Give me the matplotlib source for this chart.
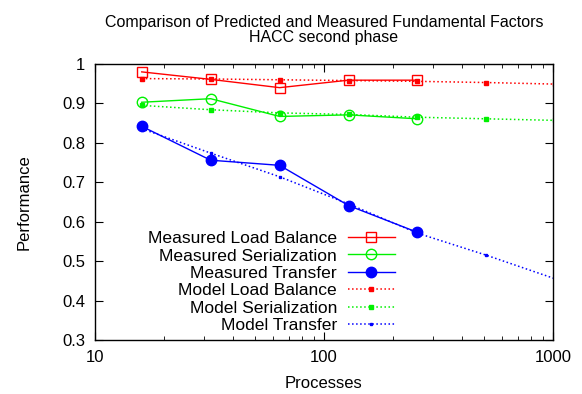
import matplotlib
matplotlib.use("Agg")
import matplotlib.pyplot as plt

# ---- data --------------------------------------------------------------
procs_measured = [16, 32, 64, 128, 256]
procs_model = [16, 32, 64, 128, 256, 512, 1024]

measured_load_balance = [0.980, 0.961, 0.940, 0.959, 0.959]
measured_serialization = [0.903, 0.912, 0.867, 0.871, 0.861]
measured_transfer = [0.842, 0.756, 0.743, 0.641, 0.573]

model_load_balance = [0.963, 0.962, 0.960, 0.958, 0.956, 0.953, 0.949]
model_serialization = [0.895, 0.884, 0.876, 0.872, 0.865, 0.861, 0.857]
model_transfer = [0.836, 0.774, 0.714, 0.645, 0.571, 0.515, 0.455]

plt.rcParams["font.family"] = ["Liberation Sans", "DejaVu Sans"]

fig = plt.figure(figsize=(5.82, 3.94), dpi=100)
ax = fig.add_axes([95 / 582, 54 / 394, 458 / 582, 276 / 394])

RED, GREEN, BLUE = "#ff0000", "#00f000", "#0000ff"

ax.plot(procs_measured, measured_load_balance, "-", color=RED, lw=1,
        marker="s", ms=7.2, mfc="none", mew=1, label="Measured Load Balance")
ax.plot(procs_measured, measured_serialization, "-", color=GREEN, lw=1,
        marker="o", ms=7.5, mfc="none", mew=1, label="Measured Serialization")
ax.plot(procs_measured, measured_transfer, "-", color=BLUE, lw=1,
        marker="o", ms=7.5, label="Measured Transfer")
ax.plot(procs_model, model_load_balance, ":", color=RED, lw=1.1,
        marker="s", ms=3, label="Model Load Balance")
ax.plot(procs_model, model_serialization, ":", color=GREEN, lw=1.1,
        marker="s", ms=2.5, label="Model Serialization")
ax.plot(procs_model, model_transfer, ":", color=BLUE, lw=1.1,
        marker="s", ms=2, label="Model Transfer")

ax.set_xscale("log")
ax.set_xlim(10, 1000)
ax.set_ylim(0.3, 1.0)
ax.set_yticks([0.3, 0.4, 0.5, 0.6, 0.7, 0.8, 0.9, 1.0])
ax.set_yticklabels(["0.3", "0.4", "0.5", "0.6", "0.7", "0.8", "0.9", "1"])
ax.set_xticks([10, 100, 1000])
ax.set_xticklabels(["10", "100", "1000"])
ax.tick_params(which="both", direction="in", top=True, right=True,
               labelsize=12, pad=7)
ax.tick_params(which="major", length=6)
ax.tick_params(which="minor", length=3)
for s in ax.spines.values():
    s.set_linewidth(1)

ax.set_xlabel("Processes", fontsize=12, labelpad=8)
ax.set_ylabel("Performance", fontsize=12, labelpad=22)
ax.set_title("Comparison of Predicted and Measured Fundamental Factors\nHACC second phase",
             fontsize=11.5, linespacing=1.0, pad=16)

ax.legend(loc="lower right", bbox_to_anchor=(0.670, 0.0), markerfirst=False,
          frameon=False, fontsize=12.6, handlelength=2.7, handletextpad=0.6,
          labelspacing=0.12, borderaxespad=0.0)
for t in ax.get_legend().get_texts():
    t.set_ha("right")

fig.savefig("out.png", dpi=100)
